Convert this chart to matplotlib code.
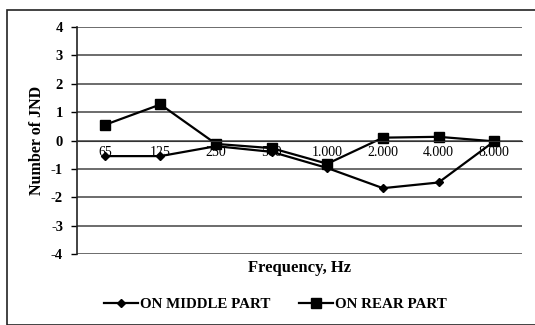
import matplotlib
matplotlib.use("Agg")
import matplotlib.pyplot as plt
from matplotlib.patches import Rectangle

categories = ["65", "125", "250", "500", "1.000", "2.000", "4.000", "8.000"]
middle_part = [-0.55, -0.55, -0.2, -0.4, -0.97, -1.68, -1.48, -0.03]
rear_part = [0.55, 1.27, -0.12, -0.27, -0.82, 0.1, 0.13, -0.03]
y_ticks = [-4, -3, -2, -1, 0, 1, 2, 3, 4]

plt.rcParams['font.family'] = ['Liberation Serif', 'DejaVu Serif']

fig = plt.figure(figsize=(5.35, 3.25), dpi=100)
fig.patches.append(Rectangle((7/535, 0), 1, 1 - 10/325, transform=fig.transFigure,
                             fill=False, edgecolor='#222222', linewidth=1.2))
ax = fig.add_axes([77/535, 1 - 254/325, 445/535, 227/325])

x = list(range(len(categories)))
ax.plot(x, middle_part, color='black', lw=1.6, marker='D', markersize=4.5,
        label='ON MIDDLE PART')
ax.plot(x, rear_part, color='black', lw=1.6, marker='s', markersize=7,
        label='ON REAR PART')

ax.set_xlim(-0.5, len(categories) - 0.5)
ax.set_ylim(-4, 4)
ax.set_yticks(y_ticks)
ax.set_yticklabels([str(v) for v in y_ticks], fontsize=10.5, fontweight='bold')
ax.set_xticks(x)
ax.set_xticklabels(categories, fontsize=12)
ax.tick_params(axis='x', length=0, pad=4)
ax.tick_params(axis='y', length=4, width=1, pad=6)
ax.spines['bottom'].set_position(('data', 0))
ax.spines['top'].set_visible(False)
ax.spines['right'].set_visible(False)
ax.spines['bottom'].set_color('#333333')
ax.spines['left'].set_color('#222222')
ax.spines['left'].set_linewidth(1.2)
ax.yaxis.grid(True, color='#444444', linewidth=1.1)
ax.set_axisbelow(True)

ax.set_ylabel('Number of JND', fontsize=11.5, fontweight='bold', labelpad=4)
fig.text(300/535, 1 - 268/325, 'Frequency, Hz', ha='center', va='center',
         fontsize=12, fontweight='bold')

fig.legend(loc='center', bbox_to_anchor=(275/535, 1 - 304/325), ncol=2,
           frameon=False, handlelength=2.3, columnspacing=1.9,
           handletextpad=0.1, prop={'weight': 'bold', 'size': 10.8})

fig.savefig('out.png', dpi=100)
